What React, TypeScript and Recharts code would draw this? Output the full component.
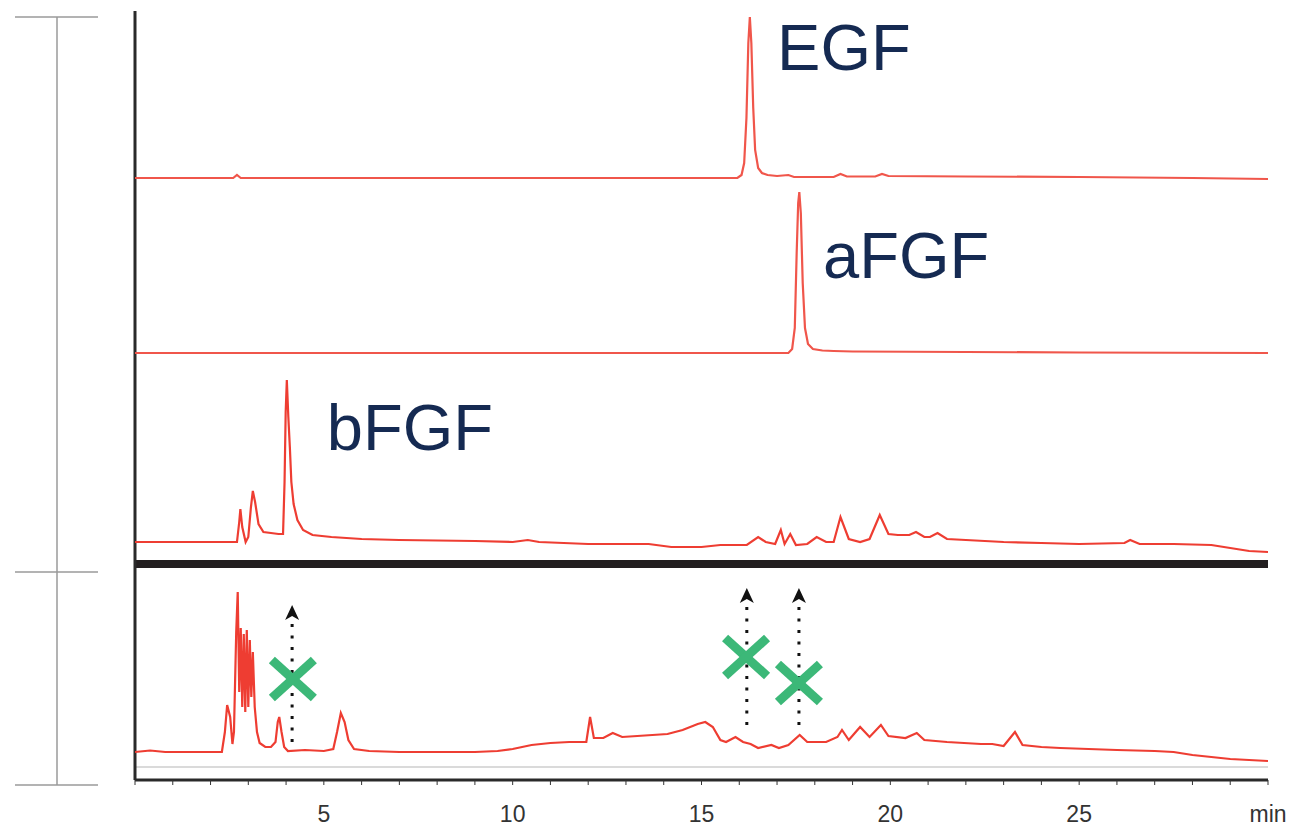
import { ComposedChart, Line, XAxis, YAxis, ReferenceLine, ReferenceDot } from "recharts";

// retention time (min) vs signal height above each trace's own baseline
type Pt = [number, number];

const EGF: Pt[] = [
  [0, 0], [2.6, 0], [2.7, 3], [2.8, 0], [15.95, 0], [16.06, 3], [16.13, 15], [16.19, 60],
  [16.24, 135], [16.28, 161], [16.32, 135], [16.37, 70], [16.42, 28], [16.5, 10], [16.6, 5],
  [16.75, 3], [17.0, 2], [17.3, 3], [17.45, 1], [18.5, 1], [18.68, 4], [18.85, 1.5],
  [19.6, 1.5], [19.78, 4], [19.95, 2], [22, 1.5], [25, 1], [28, 0], [30, -1],
];

const AFGF: Pt[] = [
  [0, 0], [17.3, 0], [17.4, 4], [17.47, 25], [17.52, 100], [17.56, 150], [17.59, 161],
  [17.63, 140], [17.68, 70], [17.74, 25], [17.82, 9], [17.95, 4], [18.2, 2.5], [18.5, 2],
  [19, 1.5], [22, 1], [25, 0.5], [30, 0],
];

const BFGF: Pt[] = [
  [0, 0], [2.7, 0], [2.76, 20], [2.79, 33], [2.84, 15], [2.93, 0], [3.0, 5], [3.07, 35],
  [3.12, 51], [3.18, 40], [3.27, 18], [3.4, 10], [3.6, 9], [3.8, 8], [3.92, 8], [3.96, 60],
  [3.99, 130], [4.02, 162], [4.06, 125], [4.1, 95], [4.14, 60], [4.2, 38], [4.3, 22],
  [4.45, 12], [4.7, 7], [5.2, 5], [6, 3], [7, 2], [9, 1], [10, 0], [10.4, 2], [10.7, 0],
  [12, -2], [13.6, -2], [14.2, -5], [15.0, -5], [15.5, -3], [16.2, -3], [16.5, 5], [16.7, 0],
  [16.95, -2], [17.1, 12], [17.2, -2], [17.35, 8], [17.5, -3], [17.8, -2], [18.05, 5],
  [18.3, 0], [18.5, 0], [18.68, 25], [18.9, 3], [19.2, 0], [19.45, 3], [19.72, 27],
  [19.95, 8], [20.2, 7], [20.5, 7], [20.68, 10], [20.9, 5], [21.05, 5], [21.25, 9],
  [21.5, 3], [22, 2], [23, 0], [24, -1], [25, -2], [26.2, -1], [26.35, 2], [26.6, -2],
  [27.5, -2], [28.5, -3], [29, -6], [29.5, -9], [30, -10],
];

const SAMPLE: Pt[] = [
  [0, 0], [0.4, 1.5], [0.8, 0], [2.3, 0], [2.38, 20], [2.44, 47], [2.52, 35], [2.58, 8],
  [2.62, 20], [2.68, 120], [2.72, 160], [2.76, 60], [2.8, 124], [2.84, 45], [2.88, 118],
  [2.92, 40], [2.96, 122], [3.0, 45], [3.04, 112], [3.08, 55], [3.12, 100], [3.17, 45],
  [3.23, 20], [3.3, 9], [3.45, 5], [3.6, 5], [3.72, 10], [3.78, 30], [3.82, 35], [3.88, 20],
  [3.95, 5], [4.05, 1], [4.5, 2], [5.0, 1], [5.25, 3], [5.35, 20], [5.45, 39], [5.55, 30],
  [5.65, 12], [5.8, 3], [6.2, 1], [7, 0], [9, 0], [9.6, 1], [10.0, 3], [10.5, 7], [11, 9],
  [11.5, 10], [11.95, 10], [12.05, 35], [12.15, 14], [12.4, 14], [12.65, 19], [12.9, 15],
  [13.3, 16], [13.7, 17], [14.1, 18], [14.5, 22], [14.9, 28], [15.1, 30], [15.3, 25],
  [15.5, 12], [15.65, 10], [15.9, 15], [16.1, 10], [16.3, 8], [16.5, 4], [16.85, 7],
  [17.05, 4], [17.3, 7], [17.6, 17], [17.8, 10], [18.3, 10], [18.6, 15], [18.72, 22],
  [18.9, 12], [19.2, 25], [19.45, 15], [19.75, 27], [19.95, 16], [20.4, 14], [20.7, 19],
  [20.9, 12], [21.5, 10], [22.4, 8], [22.7, 8], [23.0, 6], [23.3, 20], [23.5, 7], [24.0, 5],
  [24.5, 4], [26.0, 2], [27.0, 1], [27.5, 0], [28.0, -3], [29.0, -7], [30.0, -9],
];

const MINUTE_TICKS = Array.from({ length: 31 }, (_, i) => i);

// annotations: retention times marked in the sample run
const ARROW_TIMES = [4.16, 16.2, 17.58];
const ARROW_TIPS = [605, 588, 588];
const ARROW_FOOTS = [742, 725, 725];
const CROSS_TIMES = [4.18, 16.18, 17.58];
const CROSS_LEVELS = [679, 657, 683];
const PEAK_NAMES = ["EGF", "aFGF", "bFGF"];
const NAME_TIMES = [17.0, 18.22, 5.08];
const NAME_LEVELS = [70, 278, 450];

const W = 1300;
const H = 830;
const PLOT_BOTTOM = 780;
const BASE = { egf: 178, afgf: 353, bfgf: 542, sample: 752 };

const toRows = (pts: Pt[]) => pts.map(([t, v]) => ({ t, v }));
const dom = (b: number): [number, number] => [-(PLOT_BOTTOM - b), b];

const RED = "#EE3D32";
const GREEN = "#3CB878";
const NAVY = "#152A52";

const tickFmt = (t: number) => (t === 30 ? "min" : t > 0 && t % 5 === 0 ? String(t) : "");

export default function App() {
  return (
    <div style={{ position: "absolute", left: 0, top: 0, width: W, height: H, background: "#fff" }}>
      <svg width={W} height={H} style={{ position: "absolute", left: 0, top: 0 }}>
        <g stroke="#9a9a9a" strokeWidth={1.5}>
          <line x1={57} y1={17} x2={57} y2={785} />
          <line x1={15} y1={17} x2={98} y2={17} />
          <line x1={15} y1={572} x2={98} y2={572} />
          <line x1={15} y1={785} x2={98} y2={785} />
        </g>
      </svg>
      <div style={{ position: "absolute", left: 0, top: 0 }}>
        <ComposedChart width={W} height={H} margin={{ top: 0, right: 32, bottom: 20, left: 135 }}>
          <XAxis
            dataKey="t"
            type="number"
            domain={[0, 30]}
            allowDataOverflow
            ticks={MINUTE_TICKS}
            interval={0}
            tickFormatter={tickFmt}
            height={30}
            tickSize={5}
            tickMargin={21}
            axisLine={{ stroke: "#2a2a2a", strokeWidth: 3 }}
            tickLine={{ stroke: "#333" }}
            tick={{ fontSize: 23, fill: "#333", fontFamily: "Liberation Sans, Arial, sans-serif" }}
          />
          <YAxis yAxisId="egf" hide type="number" domain={dom(BASE.egf)} allowDataOverflow />
          <YAxis yAxisId="afgf" hide type="number" domain={dom(BASE.afgf)} allowDataOverflow />
          <YAxis yAxisId="bfgf" hide type="number" domain={dom(BASE.bfgf)} allowDataOverflow />
          <YAxis yAxisId="sample" hide type="number" domain={dom(BASE.sample)} allowDataOverflow />
          <YAxis yAxisId="ann" hide type="number" domain={[0, PLOT_BOTTOM]} reversed allowDataOverflow />

          <ReferenceLine yAxisId="ann" y={767} stroke="#b5b5b5" strokeWidth={1} />
          <ReferenceLine yAxisId="ann" y={564} stroke="#231F20" strokeWidth={8} />
          <ReferenceLine
            yAxisId="ann"
            segment={[{ x: 0, y: 11 }, { x: 0, y: PLOT_BOTTOM }]}
            stroke="#2a2a2a"
            strokeWidth={3}
          />

          <Line data={toRows(EGF)} yAxisId="egf" dataKey="v" type="linear" stroke="#F0564B" strokeWidth={2.2} dot={false} isAnimationActive={false} />
          <Line data={toRows(AFGF)} yAxisId="afgf" dataKey="v" type="linear" stroke="#F0564B" strokeWidth={2.2} dot={false} isAnimationActive={false} />
          <Line data={toRows(BFGF)} yAxisId="bfgf" dataKey="v" type="linear" stroke={RED} strokeWidth={2.2} dot={false} isAnimationActive={false} />
          <Line data={toRows(SAMPLE)} yAxisId="sample" dataKey="v" type="linear" stroke={RED} strokeWidth={2.2} dot={false} isAnimationActive={false} />

          {ARROW_TIMES.map((t, i) => (
            <ReferenceLine
              key={`dl${i}`}
              yAxisId="ann"
              segment={[{ x: t, y: ARROW_FOOTS[i] }, { x: t, y: ARROW_TIPS[i] + 16 }]}
              stroke="#111"
              strokeWidth={3}
              strokeDasharray="3 8.5"
            />
          ))}
          {ARROW_TIMES.map((t, i) => (
            <ReferenceDot
              key={`ah${i}`}
              yAxisId="ann"
              x={t}
              y={ARROW_TIPS[i]}
              shape={(p: any) => (
                <path
                  d={`M${p.cx},${p.cy} L${p.cx + 7},${p.cy + 15} L${p.cx},${p.cy + 11} L${p.cx - 7},${p.cy + 15} Z`}
                  fill="#111"
                />
              )}
            />
          ))}
          {CROSS_TIMES.map((t, i) => (
            <ReferenceDot
              key={`x${i}`}
              yAxisId="ann"
              x={t}
              y={CROSS_LEVELS[i]}
              shape={(p: any) => (
                <g stroke={GREEN} strokeWidth={9}>
                  <line x1={p.cx - 21} y1={p.cy - 19} x2={p.cx + 21} y2={p.cy + 19} />
                  <line x1={p.cx - 21} y1={p.cy + 19} x2={p.cx + 21} y2={p.cy - 19} />
                </g>
              )}
            />
          ))}
          {PEAK_NAMES.map((name, i) => (
            <ReferenceDot
              key={name}
              yAxisId="ann"
              x={NAME_TIMES[i]}
              y={NAME_LEVELS[i]}
              shape={(p: any) => (
                <text
                  x={p.cx}
                  y={p.cy}
                  fill={NAVY}
                  fontSize={65}
                  fontFamily="Liberation Sans, Arial, sans-serif"
                >
                  {name}
                </text>
              )}
            />
          ))}
        </ComposedChart>
      </div>
    </div>
  );
}
